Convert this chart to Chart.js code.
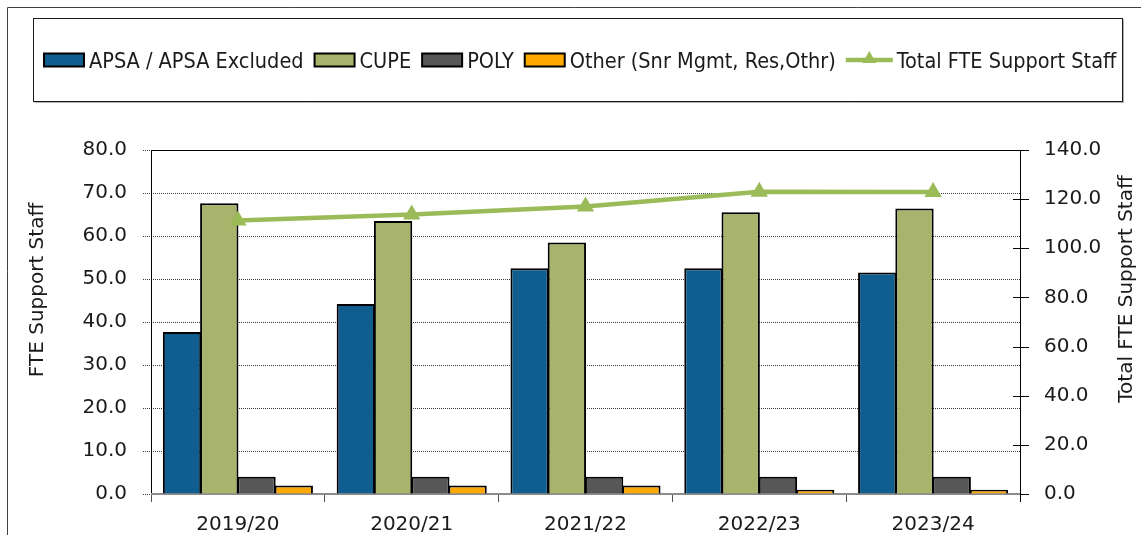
<!DOCTYPE html>
<html>
<head>
<meta charset="utf-8">
<script src="https://cdn.jsdelivr.net/npm/chart.js@4/dist/chart.umd.min.js"></script>
<style>
  html, body { margin: 0; padding: 0; background: #ffffff; }
  #wrap { position: relative; width: 1141px; height: 535px; }
  canvas { display: block; }
</style>
</head>
<body>
<div id="wrap"><canvas id="c" width="1141" height="535"></canvas></div>
<script>
// ---- Data ----
const categories = ['2019/20', '2020/21', '2021/22', '2022/23', '2023/24'];
const apsa  = [37.7, 44.2, 52.5, 52.5, 51.5];
const cupe  = [67.6, 63.5, 58.5, 65.5, 66.4];
const poly  = [4.0, 4.0, 4.0, 4.0, 4.0];
const other = [2.0, 2.0, 2.0, 1.0, 1.0];
const total = [111.3, 113.7, 117.0, 123.0, 122.9];

const seriesLabels = ['APSA / APSA Excluded', 'CUPE', 'POLY', 'Other (Snr Mgmt, Res,Othr)', 'Total FTE Support Staff'];
const leftAxisTitle = 'FTE Support Staff';
const rightAxisTitle = 'Total FTE Support Staff';
const leftAxisRange = [0, 80, 10];    // min, max, step
const rightAxisRange = [0, 140, 20];  // min, max, step

// ---- Styles ----
const FONT = "'DejaVu Sans', Verdana, sans-serif";
const LEGEND_FONT = "'DejaVu Sans Condensed', 'DejaVu Sans', sans-serif";
const TEXT = '#1a1a1a';
const C_APSA = '#0f5e8f';
const C_CUPE = '#a8b36b';
const C_POLY = '#575757';
const C_OTHER = '#ffa800';
const C_TOTAL = '#9bbb59';

Chart.defaults.font.family = FONT;
Chart.defaults.color = TEXT;

const barStyle = { borderColor: '#000000', borderWidth: 2, yAxisID: 'y', order: 1, type: 'bar' };

const decor = {
  id: 'decor',
  beforeDraw(chart) {
    const ctx = chart.ctx;
    ctx.save();
    ctx.fillStyle = '#ffffff';
    ctx.fillRect(0, 0, chart.width, chart.height);
    // outer frame (left + top)
    ctx.strokeStyle = '#404040';
    ctx.lineWidth = 1;
    ctx.beginPath();
    ctx.moveTo(7.5, chart.height);
    ctx.lineTo(7.5, 7.5);
    ctx.lineTo(chart.width, 7.5);
    ctx.stroke();
    // legend box with light shadow
    ctx.strokeStyle = '#b0b0b0';
    ctx.beginPath();
    ctx.moveTo(34.5, 102.5); ctx.lineTo(1123.5, 102.5); ctx.lineTo(1123.5, 19.5);
    ctx.stroke();
    ctx.strokeStyle = '#1a1a1a';
    ctx.strokeRect(33.5, 18.5, 1089, 83);
    ctx.restore();
  },
  beforeDatasetsDraw(chart) {
    const ctx = chart.ctx;
    const a = chart.chartArea;
    ctx.save();
    // plot frame: top, left, right
    ctx.strokeStyle = '#000000';
    ctx.lineWidth = 1;
    ctx.beginPath();
    ctx.moveTo(Math.round(a.left) + 0.5, Math.round(a.bottom));
    ctx.lineTo(Math.round(a.left) + 0.5, Math.round(a.top) + 0.5);
    ctx.lineTo(Math.round(a.right) + 0.5, Math.round(a.top) + 0.5);
    ctx.lineTo(Math.round(a.right) + 0.5, Math.round(a.bottom) + 8);
    ctx.stroke();
    // right axis tick marks (crossing the axis)
    const y2 = chart.scales.y2;
    ctx.beginPath();
    y2.ticks.forEach((t, i) => {
      const py = Math.round(y2.getPixelForTick(i)) + 0.5;
      ctx.moveTo(Math.round(a.right) - 7, py);
      ctx.lineTo(Math.round(a.right) + 9, py);
    });
    ctx.stroke();
    // category axis line (grey)
    ctx.strokeStyle = '#8c8c8c';
    ctx.lineWidth = 2;
    ctx.beginPath();
    ctx.moveTo(a.left, Math.round(a.bottom));
    ctx.lineTo(a.right, Math.round(a.bottom));
    ctx.stroke();
    ctx.restore();
  },
  afterDraw(chart) {
    const ctx = chart.ctx;
    ctx.save();
    // axis titles (both read bottom-to-top)
    ctx.font = '20px ' + FONT;
    ctx.fillStyle = TEXT;
    ctx.textAlign = 'center';
    ctx.textBaseline = 'middle';
    ctx.save();
    ctx.translate(38, 290);
    ctx.rotate(-Math.PI / 2);
    ctx.fillText(leftAxisTitle, 0, 0);
    ctx.restore();
    ctx.save();
    ctx.translate(1127, 289);
    ctx.rotate(-Math.PI / 2);
    ctx.fillText(rightAxisTitle, 0, 0);
    ctx.restore();

    // legend
    ctx.font = '21.5px ' + LEGEND_FONT;
    ctx.textAlign = 'left';
    ctx.textBaseline = 'alphabetic';
    const ds = chart.data.datasets;
    const items = ds.map(d => ({
      label: d.label,
      isLine: d.type === 'line',
      color: d.backgroundColor,
      sw: d.type === 'line' ? 47 : 42,
      tw: ctx.measureText(d.label).width
    }));
    const gapText = 4, gapItem = 10;
    let totalW = 0;
    items.forEach((it, i) => { totalW += it.sw + gapText + it.tw + (i < items.length - 1 ? gapItem : 0); });
    let x = Math.round(580 - totalW / 2);
    const cy = 60;
    items.forEach(it => {
      if (it.isLine) {
        ctx.strokeStyle = it.color;
        ctx.lineWidth = 4.5;
        ctx.beginPath();
        ctx.moveTo(x, cy); ctx.lineTo(x + it.sw, cy);
        ctx.stroke();
        const r = 8, mx = x + it.sw / 2, my = cy - 1;
        ctx.fillStyle = it.color;
        ctx.beginPath();
        ctx.moveTo(mx, my - r);
        ctx.lineTo(mx + r * 0.866, my + r / 2);
        ctx.lineTo(mx - r * 0.866, my + r / 2);
        ctx.closePath();
        ctx.fill();
      } else {
        ctx.fillStyle = it.color;
        ctx.fillRect(x + 1, cy - 6.5, it.sw - 2, 13);
        ctx.strokeStyle = '#000000';
        ctx.lineWidth = 2;
        ctx.strokeRect(x + 1, cy - 6.5, it.sw - 2, 13);
      }
      x += it.sw + gapText;
      ctx.fillStyle = TEXT;
      ctx.fillText(it.label, x, 67.5);
      x += it.tw + gapItem;
    });
    ctx.restore();
  }
};

new Chart(document.getElementById('c'), {
  data: {
    labels: categories,
    datasets: [
      Object.assign({ label: seriesLabels[0], data: apsa,  backgroundColor: C_APSA }, barStyle),
      Object.assign({ label: seriesLabels[1], data: cupe,  backgroundColor: C_CUPE }, barStyle),
      Object.assign({ label: seriesLabels[2], data: poly,  backgroundColor: C_POLY }, barStyle),
      Object.assign({ label: seriesLabels[3], data: other, backgroundColor: C_OTHER }, barStyle),
      {
        type: 'line', label: seriesLabels[4], data: total, yAxisID: 'y2', order: 0,
        borderColor: C_TOTAL, backgroundColor: C_TOTAL, borderWidth: 4.5,
        pointStyle: 'triangle', pointRadius: 10, pointBackgroundColor: C_TOTAL,
        pointBorderColor: C_TOTAL, pointBorderWidth: 0, tension: 0, fill: false
      }
    ]
  },
  options: {
    responsive: false,
    animation: false,
    devicePixelRatio: 1,
    layout: { padding: { top: 150, left: 0, right: 0, bottom: 0 } },
    datasets: { bar: { barPercentage: 1.03, categoryPercentage: 0.857 } },
    plugins: { legend: { display: false }, tooltip: { enabled: false } },
    scales: {
      x: {
        type: 'category',
        offset: true,
        grid: { display: true, offset: true, drawOnChartArea: false, drawTicks: true, tickLength: 8, color: '#555555' },
        border: { display: false },
        ticks: { font: { size: 20 }, color: TEXT, padding: 11, maxRotation: 0, autoSkip: false },
        afterFit(s) { s.height = 41; }
      },
      y: {
        position: 'left',
        min: leftAxisRange[0], max: leftAxisRange[1],
        grid: { color: '#3a3a3a', lineWidth: 1, drawTicks: true, tickLength: 8, tickBorderDash: [1, 1] },
        border: { display: false, dash: [1, 1] },
        ticks: { stepSize: leftAxisRange[2], font: { size: 20 }, color: TEXT, padding: 16,
                 callback: v => Number(v).toFixed(1) },
        afterFit(s) { s.width = 151; }
      },
      y2: {
        position: 'right',
        min: rightAxisRange[0], max: rightAxisRange[1],
        grid: { drawOnChartArea: false, drawTicks: false },
        border: { display: false },
        ticks: { stepSize: rightAxisRange[2], font: { size: 20 }, color: TEXT, padding: 24,
                 callback: v => Number(v).toFixed(1) },
        afterFit(s) { s.width = 121; }
      }
    }
  },
  plugins: [decor]
});
</script>
</body>
</html>
